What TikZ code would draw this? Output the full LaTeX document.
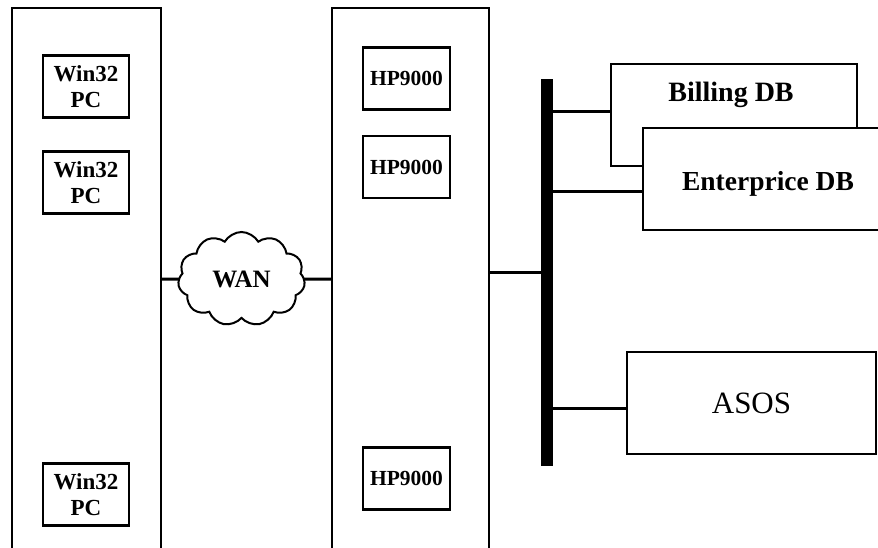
\documentclass[tikz,border=0pt]{standalone}
\usepackage{fontspec}
\setmainfont{Liberation Serif}
\usetikzlibrary{shapes.symbols}
\begin{document}
\begin{tikzpicture}[x=1pt,y=-1pt,
  every node/.style={outer sep=0pt},
  panel/.style={draw,line width=2pt,anchor=north west,minimum height=570pt},
  pcbox/.style={draw,fill=white,line width=2.5pt,minimum width=86pt,minimum height=62pt,inner sep=0pt,align=center,font=\fontsize{23}{26}\selectfont\bfseries},
  hpbox/.style={draw,fill=white,line width=2.5pt,minimum width=87pt,minimum height=62pt,inner sep=0pt,font=\fontsize{21.5}{24}\selectfont\bfseries},
  dbbox/.style={draw,fill=white,line width=2pt,minimum height=102pt,inner sep=0pt},
  dbtext/.style={font=\fontsize{28}{30}\selectfont\bfseries,inner sep=0pt},
  conn/.style={line width=3pt}]
\useasboundingbox (0,0) rectangle (878,548);
\clip (0,0) rectangle (878,548);
% panels
\node[panel,minimum width=149pt] (lp) at (12,8) {};
\node[panel,minimum width=157pt] (mp) at (332,8) {};
% Win32 PCs
\node[pcbox] (pc1) at (86,86.5) {Win32\\PC};
\node[pcbox] (pc2) at (86,182.5) {Win32\\PC};
\node[pcbox] (pc3) at (86,494.5) {Win32\\PC};
% HP9000
\node[hpbox] (hp1) at (406.5,78.5) {HP9000};
\node[hpbox] (hp2) at (406.5,167) {HP9000};
\node[hpbox] (hp3) at (406.5,478.5) {HP9000};
% bus
\node[fill=black,minimum width=12pt,minimum height=387pt,inner sep=0pt] (bus) at (547,272.5) {};
% databases
\node[dbbox,minimum width=246pt] (billing) at (734,115) {};
\node[dbtext] (billtext) at (731,95) {Billing DB};
\node[dbbox,minimum width=247pt] (ent) at (766.5,179) {};
\node[dbtext,font=\fontsize{27.5}{30}\selectfont\bfseries] (enttext) at (768,184) {Enterprice DB};
\node[dbbox,minimum width=249pt,font=\fontsize{31}{34}\selectfont] (asos) at (751.5,403) {ASOS};
% WAN cloud
\node[cloud,draw,fill=white,line width=2pt,cloud puffs=11,cloud puff arc=120,aspect=1.35,minimum width=127pt,minimum height=94pt,inner sep=0pt,font=\fontsize{25}{28}\selectfont\bfseries] (wan) at (241.5,279) {WAN};
% connectors
\draw[conn] (lp.east |- wan.center) -- (wan.west);
\draw[conn] (wan.east) -- (mp.west |- wan.center);
\draw[conn] (mp.east |- bus.west) -- (bus.west);
\coordinate (bl) at ([yshift=3pt]billing.west);
\coordinate (el) at ([yshift=-13pt]ent.west);
\coordinate (al) at ([yshift=-5pt]asos.west);
\draw[conn] (bus.east |- bl) -- (bl);
\draw[conn] (bus.east |- el) -- (el);
\draw[conn] (bus.east |- al) -- (al);
\end{tikzpicture}
\end{document}
